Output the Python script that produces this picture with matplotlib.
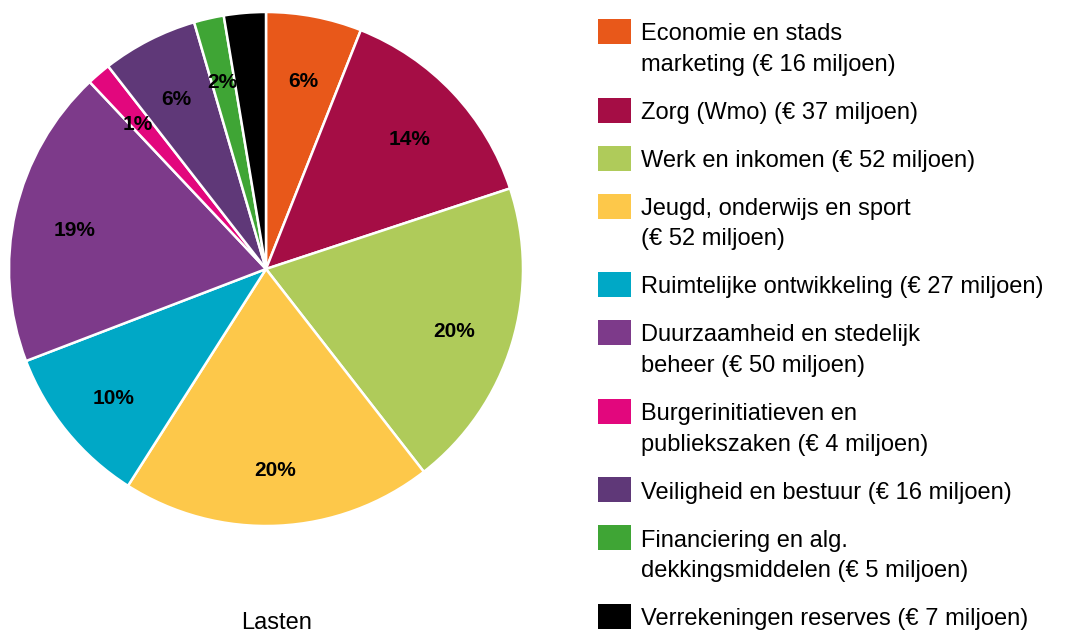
import matplotlib

matplotlib.use("Agg")
import matplotlib.pyplot as plt
from matplotlib.patches import Rectangle

plt.rcParams["font.family"] = ["Liberation Sans", "DejaVu Sans"]

# Data: lasten per programma (miljoen euro)
categories = [
    "Economie en stads\nmarketing (€ 16 miljoen)",
    "Zorg (Wmo) (€ 37 miljoen)",
    "Werk en inkomen (€ 52 miljoen)",
    "Jeugd, onderwijs en sport\n(€ 52 miljoen)",
    "Ruimtelijke ontwikkeling (€ 27 miljoen)",
    "Duurzaamheid en stedelijk\nbeheer (€ 50 miljoen)",
    "Burgerinitiatieven en\npubliekszaken (€ 4 miljoen)",
    "Veiligheid en bestuur (€ 16 miljoen)",
    "Financiering en alg.\ndekkingsmiddelen (€ 5 miljoen)",
    "Verrekeningen reserves (€ 7 miljoen)",
]
values = [16, 37, 52, 52, 27, 50, 4, 16, 5, 7]
pct_labels = ["6%", "14%", "20%", "20%", "10%", "19%", "1%", "6%", "2%", "3%"]
colors = [
    "#E8581A", "#A50D45", "#AFCB5A", "#FDC84A", "#00A8C6",
    "#7D3A8A", "#E2077D", "#5F3878", "#3FA535", "#000000",
]
title = "Lasten"

W, H = 1065, 634
fig = plt.figure(figsize=(W / 100, H / 100), dpi=100)


def fx(x):
    return x / W


def fy(y):
    return 1 - y / H


# pie axes: centre (266, 269), radius 257 px
cx, cy, r = 266, 269, 257
ax = fig.add_axes([fx(cx - r), fy(cy + r), 2 * r / W, 2 * r / H])
wedges, texts = ax.pie(
    values,
    colors=colors,
    startangle=90,
    counterclock=False,
    labels=pct_labels,
    labeldistance=0.765,
    wedgeprops=dict(edgecolor="white", linewidth=1.8),
    textprops=dict(fontsize=15, fontweight="bold", color="black", ha="center", va="center"),
)
# labels sit a little low in the original
for t in texts:
    x, y = t.get_position()
    t.set_position((x, y - 0.02))
ax.set_xlim(-1, 1)
ax.set_ylim(-1, 1)
ax.set_aspect("auto")
ax.axis("off")

fig.text(fx(277), fy(629), title, ha="center", va="baseline", fontsize=17)

# legend, drawn by hand so multi-line labels line up like the original
top = 19
for label, col in zip(categories, colors):
    fig.patches.append(
        Rectangle((fx(598), fy(top + 25)), 33 / W, 25 / H,
                  transform=fig.transFigure, facecolor=col, edgecolor="none")
    )
    lines = label.split("\n")
    for i, line in enumerate(lines):
        fig.text(fx(641), fy(top + 21.5 + i * 30.5), line,
                 ha="left", va="baseline", fontsize=17)
    top += 48 + 30.5 * (len(lines) - 1)

fig.savefig("out.png", dpi=100)
